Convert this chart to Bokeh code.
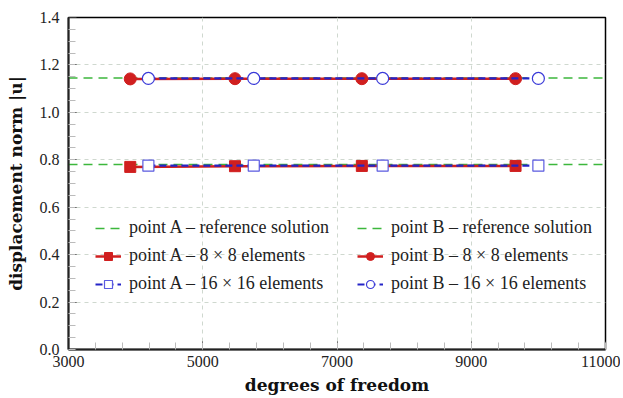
from bokeh.plotting import figure
from bokeh.models import Legend, LegendItem, FixedTicker, NumeralTickFormatter, Range1d
from bokeh.embed import file_html
from bokeh.resources import INLINE

# data
dof_8 = [3920, 5480, 7370, 9660]
dof_16 = [4190, 5760, 7680, 10000]
A_8 = [0.770, 0.773, 0.774, 0.774]
A_16 = [0.775, 0.775, 0.775, 0.775]
B_8 = [1.141, 1.142, 1.142, 1.142]
B_16 = [1.143, 1.143, 1.143, 1.143]
A_ref = 0.780
B_ref = 1.145
ref_x = [3000, 11000]
x_ticks = [3000, 5000, 7000, 9000, 11000]
y_ticks = [0.0, 0.2, 0.4, 0.6, 0.8, 1.0, 1.2, 1.4]

FONT = "Liberation Serif"
LABEL_FONT = "DejaVu Serif"
RED = "#d01f1f"
BLUE = "#2424c8"
GREEN = "#3cb73c"

p = figure(width=620, height=397, output_backend="svg", toolbar_location=None,
           x_range=Range1d(3000, 11000), y_range=Range1d(0, 1.4),
           min_border_left=68, min_border_right=15, min_border_top=17, min_border_bottom=46)

p.outline_line_color = "black"
p.outline_line_width = 1.5

# grid
for g in (p.xgrid, p.ygrid):
    g.grid_line_color = "#cfd8cf"
    g.grid_line_dash = "4 4"
    g.grid_line_width = 1
p.xgrid.ticker = FixedTicker(ticks=[5000, 7000, 9000])
p.ygrid.ticker = FixedTicker(ticks=[0.2, 0.4, 0.6, 0.8, 1.0, 1.2])

# axes
p.xaxis.ticker = FixedTicker(ticks=x_ticks, minor_ticks=list(range(3000, 11001, 400)))
p.yaxis.ticker = FixedTicker(ticks=y_ticks, minor_ticks=[i * 0.05 for i in range(29)])
p.yaxis.formatter = NumeralTickFormatter(format="0.0")
for ax in (p.xaxis, p.yaxis):
    ax.axis_line_color = "#222222"
    ax.axis_line_width = 2
    ax.major_tick_in = 8
    ax.major_tick_out = 0
    ax.minor_tick_in = 7
    ax.minor_tick_out = 0
    ax.major_tick_line_color = "#333333"
    ax.minor_tick_line_color = "#bbbbbb"
    ax.major_label_text_font = FONT
    ax.major_label_text_font_size = "16px"
    ax.major_label_text_color = "#222222"
    ax.axis_label_text_font = LABEL_FONT
    ax.axis_label_text_font_size = "17px"
    ax.axis_label_text_font_style = "bold"
    ax.axis_label_text_color = "#111111"
p.xaxis.major_label_standoff = 6
p.yaxis.major_label_standoff = 9
p.xaxis.axis_label = "degrees of freedom"
p.yaxis.axis_label = "displacement norm |u|"
p.xaxis.axis_label_standoff = 5
p.yaxis.axis_label_standoff = 11

# reference lines
rA = p.line(ref_x, [A_ref, A_ref], line_color=GREEN, line_width=1.6, line_dash="9 6")
rB = p.line(ref_x, [B_ref, B_ref], line_color=GREEN, line_width=1.6, line_dash="9 6")

# 8x8
lA8 = p.line(dof_8, A_8, line_color=RED, line_width=2.5)
mA8 = p.scatter(dof_8, A_8, marker="square", size=11, fill_color=RED, line_color=RED)
lB8 = p.line(dof_8, B_8, line_color=RED, line_width=2.5)
mB8 = p.scatter(dof_8, B_8, marker="circle", size=12, fill_color=RED, line_color=RED)

# 16x16
lA16 = p.line(dof_16, A_16, line_color=BLUE, line_width=2.2, line_dash="7 4")
mA16 = p.scatter(dof_16, A_16, marker="square", size=11, fill_color="white", line_color="#5a5ae0", line_width=1.2)
lB16 = p.line(dof_16, B_16, line_color=BLUE, line_width=2.2, line_dash="7 4")
mB16 = p.scatter(dof_16, B_16, marker="circle", size=12, fill_color="white", line_color="#3a3ad8", line_width=1.2)

def make_legend(items, loc):
    lg = Legend(items=items, location=loc, orientation="vertical")
    lg.background_fill_alpha = 0
    lg.border_line_alpha = 0
    lg.label_text_font = FONT
    lg.label_text_font_size = "18px"
    lg.label_text_color = "#222222"
    lg.glyph_width = 26
    lg.glyph_height = 20
    lg.label_height = 20
    lg.label_standoff = 8
    lg.spacing = 7
    lg.padding = 0
    lg.margin = 0
    return lg

legA = make_legend([
    LegendItem(label="point A – reference solution", renderers=[rA]),
    LegendItem(label="point A – 8 × 8 elements", renderers=[lA8, mA8]),
    LegendItem(label="point A – 16 × 16 elements", renderers=[lA16, mA16]),
], (27, 55))
legB = make_legend([
    LegendItem(label="point B – reference solution", renderers=[rB]),
    LegendItem(label="point B – 8 × 8 elements", renderers=[lB8, mB8]),
    LegendItem(label="point B – 16 × 16 elements", renderers=[lB16, mB16]),
], (289, 55))
p.add_layout(legA, "center")
p.add_layout(legB, "center")

open("out.html", "w").write(file_html(p, INLINE))
